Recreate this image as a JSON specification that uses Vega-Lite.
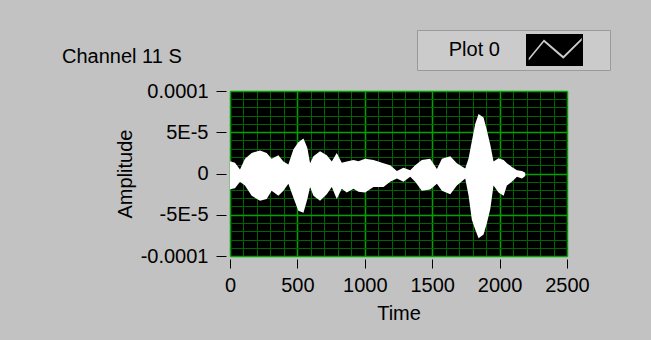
{
  "$schema": "https://vega.github.io/schema/vega-lite/v6.json",
  "autosize": "none",
  "width": 337,
  "height": 165,
  "padding": {"left": 230, "top": 91, "right": 84, "bottom": 84},
  "background": "#c2c2c2",
  "title": {"text": "Channel 11 S", "anchor": "start", "frame": "group", "dx": -168, "offset": -37, "fontSize": 20, "fontWeight": "normal", "font": "Liberation Sans", "color": "#000000"},
  "config": {
    "view": {"fill": "#000000", "stroke": "#9a9a9a", "strokeWidth": 1},
    "axis": {"labelFont": "Liberation Sans", "labelFontSize": 20, "labelColor": "#000000", "titleFont": "Liberation Sans", "titleFontSize": 20, "titleFontWeight": "normal", "titleColor": "#000000", "tickColor": "#000000", "tickWidth": 1, "domain": false}
  },
  "layer": [
    {
      "data": {"values": [
        {"t": 0, "hi": 1.5e-5, "lo": -1.9e-5},
        {"t": 37, "hi": 1.3e-5, "lo": -1.8e-5},
        {"t": 74, "hi": 0.5e-5, "lo": -1.0e-5},
        {"t": 111, "hi": 1.8e-5, "lo": -1.45e-5},
        {"t": 161, "hi": 2.5e-5, "lo": -2.7e-5},
        {"t": 223, "hi": 2.8e-5, "lo": -3.3e-5},
        {"t": 272, "hi": 2.5e-5, "lo": -3.1e-5},
        {"t": 309, "hi": 1.8e-5, "lo": -2.1e-5},
        {"t": 359, "hi": 2.2e-5, "lo": -2.7e-5},
        {"t": 396, "hi": 1.45e-5, "lo": -2.1e-5},
        {"t": 433, "hi": 1.1e-5, "lo": -1.25e-5},
        {"t": 470, "hi": 2.9e-5, "lo": -2.9e-5},
        {"t": 507, "hi": 3.8e-5, "lo": -4.5e-5},
        {"t": 545, "hi": 4.25e-5, "lo": -4.75e-5},
        {"t": 574, "hi": 3.1e-5, "lo": -3.1e-5},
        {"t": 594, "hi": 1.25e-5, "lo": -1.65e-5},
        {"t": 619, "hi": 2.1e-5, "lo": -2.7e-5},
        {"t": 668, "hi": 2.7e-5, "lo": -3.3e-5},
        {"t": 718, "hi": 2.2e-5, "lo": -2.5e-5},
        {"t": 755, "hi": 1.45e-5, "lo": -1.65e-5},
        {"t": 792, "hi": 2.5e-5, "lo": -3.1e-5},
        {"t": 829, "hi": 1.3e-5, "lo": -1.85e-5},
        {"t": 866, "hi": 1.45e-5, "lo": -2.3e-5},
        {"t": 916, "hi": 1.65e-5, "lo": -1.85e-5},
        {"t": 953, "hi": 1.5e-5, "lo": -2.2e-5},
        {"t": 1002, "hi": 1.8e-5, "lo": -2.3e-5},
        {"t": 1064, "hi": 1.65e-5, "lo": -1.65e-5},
        {"t": 1139, "hi": 1.25e-5, "lo": -1.65e-5},
        {"t": 1188, "hi": 1.0e-5, "lo": -1.0e-5},
        {"t": 1238, "hi": 0.3e-5, "lo": -0.6e-5},
        {"t": 1287, "hi": 0.7e-5, "lo": -1.0e-5},
        {"t": 1337, "hi": 0.4e-5, "lo": -0.4e-5},
        {"t": 1374, "hi": 1.0e-5, "lo": -1.0e-5},
        {"t": 1423, "hi": 1.65e-5, "lo": -2.1e-5},
        {"t": 1485, "hi": 1.8e-5, "lo": -1.95e-5},
        {"t": 1535, "hi": 0.55e-5, "lo": -1.25e-5},
        {"t": 1572, "hi": 1.8e-5, "lo": -2.1e-5},
        {"t": 1634, "hi": 2.1e-5, "lo": -2.5e-5},
        {"t": 1683, "hi": 1.25e-5, "lo": -1.45e-5},
        {"t": 1745, "hi": 0.6e-5, "lo": -0.6e-5},
        {"t": 1770, "hi": 1.85e-5, "lo": -2.7e-5},
        {"t": 1794, "hi": 3.9e-5, "lo": -5.6e-5},
        {"t": 1819, "hi": 6.0e-5, "lo": -6.8e-5},
        {"t": 1844, "hi": 7.2e-5, "lo": -7.85e-5},
        {"t": 1881, "hi": 6.8e-5, "lo": -7.4e-5},
        {"t": 1906, "hi": 5.2e-5, "lo": -6.0e-5},
        {"t": 1931, "hi": 3.5e-5, "lo": -4.3e-5},
        {"t": 1955, "hi": 1.45e-5, "lo": -1.45e-5},
        {"t": 1992, "hi": 1.85e-5, "lo": -2.3e-5},
        {"t": 2030, "hi": 1.65e-5, "lo": -2.7e-5},
        {"t": 2054, "hi": 1.25e-5, "lo": -1.45e-5},
        {"t": 2091, "hi": 0.8e-5, "lo": -1.0e-5},
        {"t": 2129, "hi": 0.4e-5, "lo": -0.4e-5},
        {"t": 2166, "hi": 0.3e-5, "lo": -0.6e-5},
        {"t": 2190, "hi": 0.1e-5, "lo": -0.3e-5}
      ]},
      "mark": {"type": "area", "color": "#ffffff", "interpolate": "linear", "opacity": 1},
      "encoding": {
        "x": {"field": "t", "type": "quantitative", "scale": {"domain": [0, 2500], "nice": false},
          "axis": {"title": "Time", "format": "d", "values": [0, 500, 1000, 1500, 2000, 2500], "grid": true, "gridColor": "#00a400", "gridWidth": 1.5, "gridOpacity": 1, "offset": 3, "tickSize": 9, "labelPadding": 7, "titlePadding": 8, "labelFlush": false}},
        "y": {"field": "hi", "type": "quantitative", "scale": {"domain": [-0.0001, 0.0001], "nice": false},
          "axis": {"title": "Amplitude", "values": [-0.0001, -0.00005, 0, 0.00005, 0.0001], "labelExpr": "datum.value > 0.00007 ? '0.0001' : datum.value > 0.00002 ? '5E-5' : datum.value > -0.00002 ? '0' : datum.value > -0.00007 ? '-5E-5' : '-0.0001'", "grid": true, "gridColor": "#00a400", "gridWidth": 1.5, "gridOpacity": 1, "offset": 4, "tickSize": 10, "labelPadding": 8, "titlePadding": 5, "labelFlush": false}},
        "y2": {"field": "lo"}
      }
    },
    {
      "data": {"values": []},
      "mark": {"type": "point", "filled": true, "color": "#000000", "opacity": 1, "size": 1024},
      "encoding": {
        "x": {"datum": 0, "type": "quantitative",
          "axis": {"orient": "top", "title": null, "labels": false, "ticks": false, "domain": false, "values": [100, 200, 300, 400, 600, 700, 800, 900, 1100, 1200, 1300, 1400, 1600, 1700, 1800, 1900, 2100, 2200, 2300, 2400], "grid": true, "gridColor": "#006400", "gridWidth": 1, "gridOpacity": 1}},
        "y": {"datum": 0, "type": "quantitative",
          "axis": {"orient": "right", "title": null, "labels": false, "ticks": false, "domain": false, "values": [-0.00009, -0.00008, -0.00007, -0.00006, -0.00004, -0.00003, -0.00002, -0.00001, 0.00001, 0.00002, 0.00003, 0.00004, 0.00006, 0.00007, 0.00008, 0.00009], "grid": true, "gridColor": "#006400", "gridWidth": 1, "gridOpacity": 1}},
        "shape": {"datum": "Plot 0", "scale": {"range": ["M-1.78,-1H1.78V1H-1.78Z M-1.61,0.66L-0.66,-0.5L0.55,0.54L1.7,-0.59L1.7,-0.75L0.55,0.38L-0.66,-0.66L-1.61,0.5Z"]},
          "legend": {"orient": "none", "legendX": 187, "legendY": -61, "title": "\u200b\u00a0\u00a0\u00a0\u00a0\u00a0Plot 0", "titleOrient": "left", "titleFont": "Liberation Sans", "titleFontSize": 20, "titleFontWeight": "normal", "titleColor": "#000000", "titlePadding": 38.5, "labelExpr": "''", "labelOffset": 35.5, "padding": 4, "fillColor": "#cbcbcb", "strokeColor": "#9a9a9a", "symbolFillColor": "#000000", "symbolStrokeWidth": 0, "symbolSize": 1024, "symbolOpacity": 1}}
      }
    }
  ],
  "resolve": {"axis": {"x": "independent", "y": "independent"}}
}
